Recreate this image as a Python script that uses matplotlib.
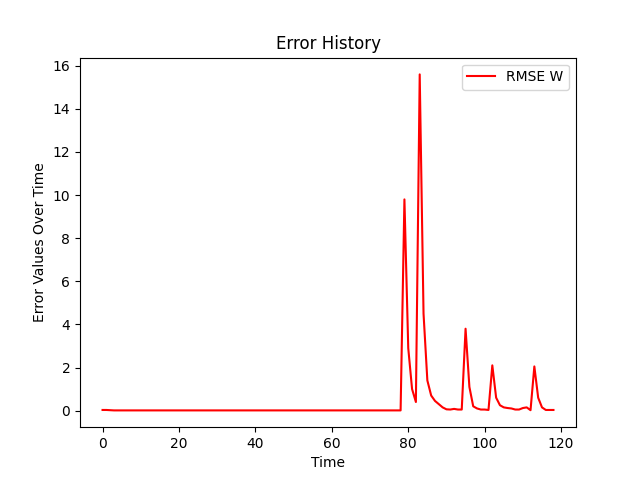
import matplotlib.pyplot as plt
import numpy as np

tail = [9.8, 2.9, 1.0, 0.4, 15.6, 4.5, 1.4, 0.7, 0.45, 0.3, 0.15, 0.06, 0.05, 0.08,
        0.05, 0.05, 3.8, 1.1, 0.2, 0.1, 0.05, 0.05, 0.03, 2.1, 0.6, 0.25, 0.15, 0.12,
        0.1, 0.05, 0.05, 0.12, 0.15, 0.02, 2.05, 0.6, 0.15, 0.03, 0.03, 0.03]
rmse_w = [0.03, 0.03, 0.02] + [0.01] * 76 + tail
rmse_w = rmse_w[:79] + tail
time = np.arange(len(rmse_w))

plt.figure(figsize=(6.4, 4.8), dpi=100)
plt.plot(time, rmse_w, color='red', label='RMSE W')
plt.title('Error History')
plt.xlabel('Time')
plt.ylabel('Error Values Over Time')
plt.legend()
plt.savefig('out.png')
